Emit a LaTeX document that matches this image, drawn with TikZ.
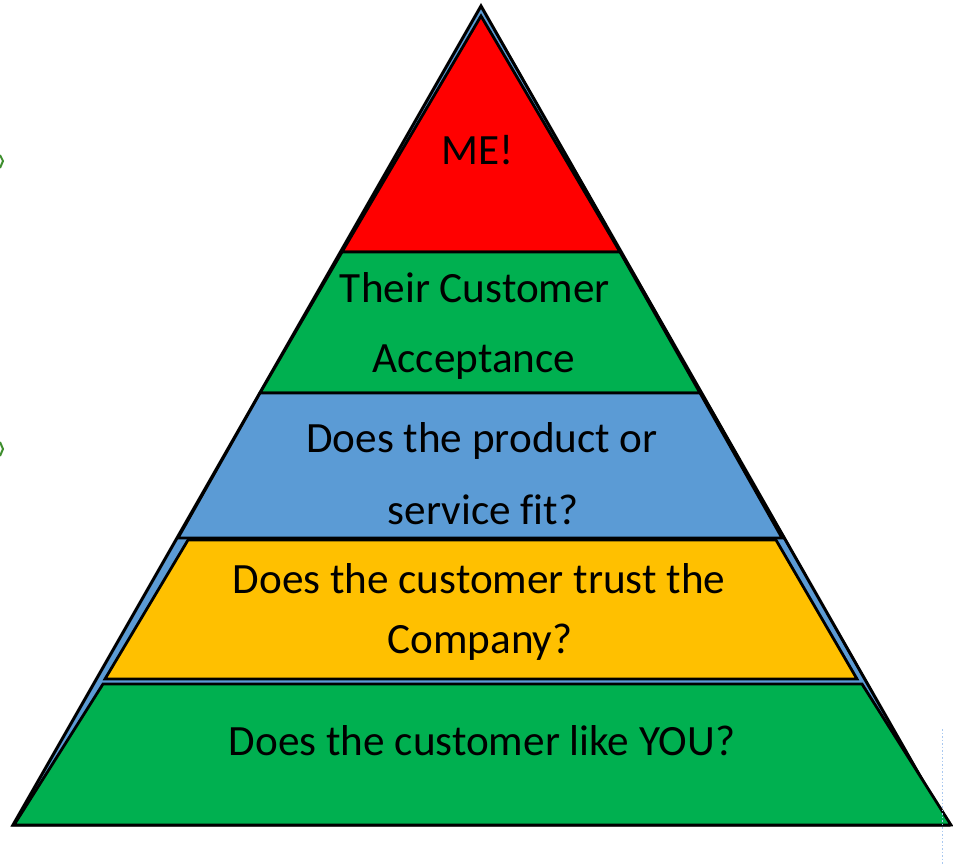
\documentclass[tikz,border=0pt]{standalone}
\usepackage{fontspec}
\setmainfont{Carlito}[Ligatures={NoCommon}]
\definecolor{pyrred}{HTML}{FF0000}
\definecolor{pyrgreen}{HTML}{00B050}
\definecolor{pyrblue}{HTML}{5B9BD5}
\definecolor{pyryellow}{HTML}{FFC000}
\definecolor{guideblue}{HTML}{A9C8F0}
\definecolor{markgreen}{HTML}{3E8E2E}
\tikzset{
  layer/.style={draw=black, line width=2.8pt, line join=miter},
  label/.style={anchor=base, inner sep=0pt, text=black, font=\fontsize{43.2}{50}\selectfont}
}
\begin{document}
\begin{tikzpicture}[x=1pt,y=-1pt]
\useasboundingbox (0,0) rectangle (953,865);
% underlying outer triangle
\draw[layer, fill=pyrblue, line width=3pt] (481,6) -- (948,825) -- (13,825) -- cycle;
% layers
\draw[layer, fill=pyrred] (481,16) -- (620,252) -- (342,252) -- cycle;
\draw[layer, fill=pyrgreen] (342,252) -- (620,252) -- (700,393) -- (260,393) -- cycle;
\draw[layer, fill=pyrblue] (260,393) -- (700,393) -- (782,538) -- (178,538) -- cycle;
\draw[layer, fill=pyryellow] (188,540) -- (776,540) -- (857,679) -- (105,679) -- cycle;
\draw[layer, fill=pyrgreen] (103,684) -- (862,684) -- (951,825) -- (14,825) -- cycle;
% texts
\node[label] (t1) at (478,164) {ME!};
\node[label] (t2a) at (475,302) {Their Customer};
\node[label] (t2b) at (474,372) {Acceptance};
\node[label] (t3a) at (482,452) {Does the product or};
\node[label] (t3b) at (483,524) {service fit?};
\node[label] (t4a) at (479,593) {Does the customer trust the};
\node[label] (t4b) at (480,653) {Company?};
\node[label] (t5) at (482,755) {Does the customer like YOU?};
% edge fragments
\draw[markgreen, line width=2pt] (0,155) -- (3,161) -- (0,168);
\draw[markgreen, line width=2pt] (0,442) -- (3,449) -- (0,456);
\draw[guideblue, line width=1.5pt, dotted] (942.5,729) -- (942.5,865);
\end{tikzpicture}
\end{document}
